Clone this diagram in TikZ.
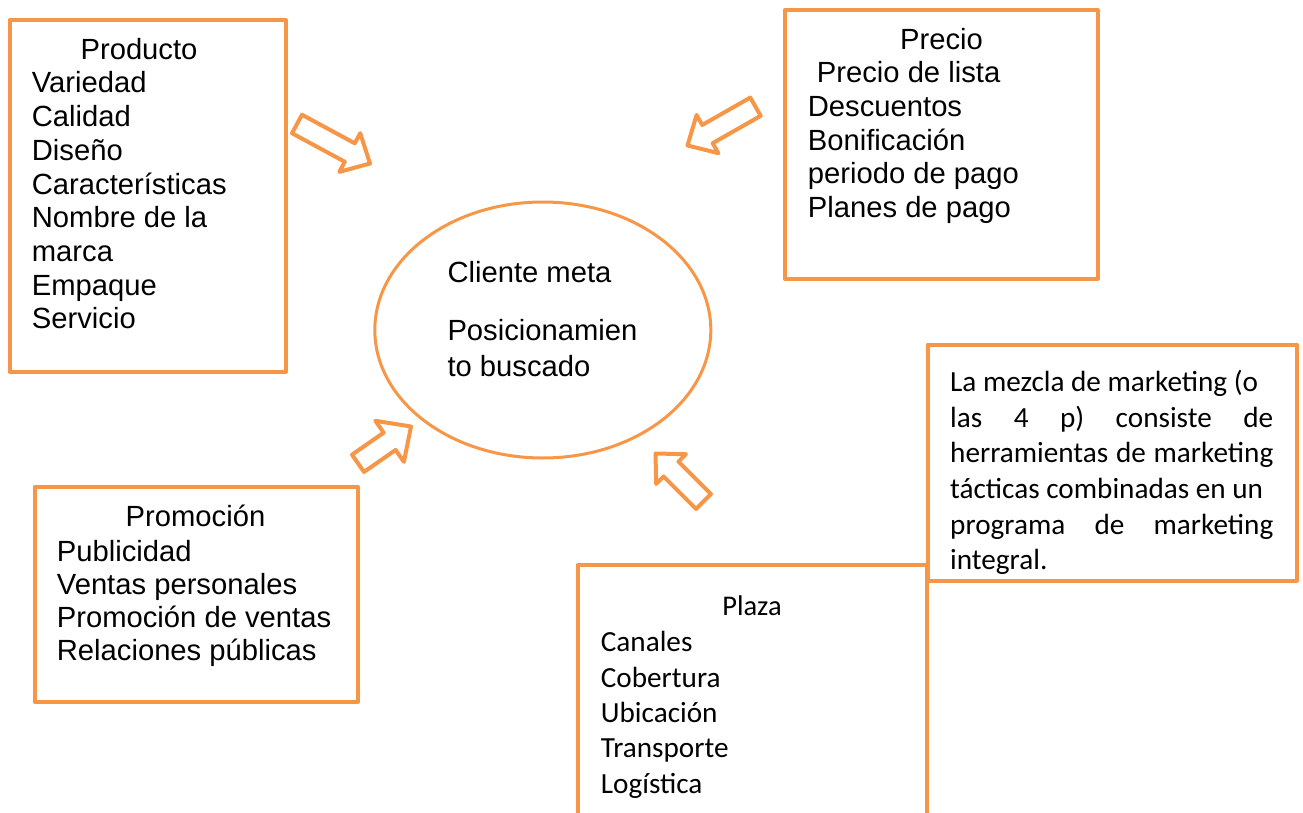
\documentclass[tikz,border=0pt]{standalone}
\usepackage{fontspec}
\setmainfont{Liberation Sans}
\newfontfamily\calib{Carlito}
\usetikzlibrary{calc,shapes.geometric}
\definecolor{orng}{HTML}{F79646}
\newcommand\blocklines[2]{\parbox[t]{#1}{\raggedright #2}}
\newcommand\blockarrow[5]{%
  \coordinate (#1-b) at ($(#2)!#5!(#1)$);
  \draw[arr] ($(#1)!#3!90:(#2)$) -- ($(#1-b)!#3!90:(#2)$) -- ($(#1-b)!#4!90:(#2)$) -- (#2)
    -- ($(#1-b)!#4!-90:(#2)$) -- ($(#1-b)!#3!-90:(#2)$) -- ($(#1)!#3!-90:(#2)$) -- cycle;}
\begin{document}
\begin{tikzpicture}[x=1pt,y=-1pt,
  box/.style={draw=orng,line width=4pt,line join=round,inner sep=0pt,outer sep=0pt,anchor=north west},
  arr/.style={draw=orng,line width=4pt,line join=round,fill=white},
  ttl/.style={anchor=base,inner sep=0pt,font=\fontsize{29.2}{33.7}\selectfont},
  body/.style={anchor=base west,inner sep=0pt,font=\fontsize{29.2}{33.7}\selectfont},
  cttl/.style={anchor=base,inner sep=0pt,font=\calib\fontsize{28.5}{35.5}\selectfont},
  cbody/.style={anchor=base west,inner sep=0pt,font=\calib\fontsize{29.2}{35.6}\selectfont}]
\useasboundingbox (0,0) rectangle (1303,813);
\clip (0,0) rectangle (1303,813);
% boxes
\node[box,minimum width=276.5pt,minimum height=351.5pt] (prod) at (9.5,20) {};
\node[box,minimum width=313pt,minimum height=268pt] (prec) at (784.5,10.5) {};
\node[box,minimum width=323.5pt,minimum height=214.5pt] (prom) at (34.5,487) {};
\node[box,minimum width=349.5pt,minimum height=265pt] (plaza) at (577.5,565) {};
\node[box,minimum width=369pt,minimum height=236pt] (mezcla) at (927.5,344.5) {};
\node[draw=orng,line width=3pt,ellipse,minimum width=336pt,minimum height=256pt,inner sep=0pt,outer sep=0pt] (cli) at (542.8,330) {};
% texts
\node[ttl] (prodT) at (139,59.3) {Producto};
\node[body] (prodL) at (31.7,93) {\blocklines{250pt}{Variedad\\Calidad\\Diseño\\Características\\Nombre de la\\marca\\Empaque\\Servicio}};
\node[ttl] (precT) at (941.5,50) {Precio};
\node[body] (precL) at (807.7,82.7) {\blocklines{280pt}{\hspace*{9pt}Precio de lista\\Descuentos\\Bonificación\\periodo de pago\\Planes de pago}};
\node[ttl] (promT) at (195.5,526.7) {Promoción};
\node[body,font=\fontsize{29.2}{33.2}\selectfont] (promL) at (56.7,561) {\blocklines{300pt}{Publicidad\\Ventas personales\\Promoción de ventas\\Relaciones públicas}};
\node[body] (cliT) at (447.3,282.3) {Cliente meta};
\node[body,font=\fontsize{29.2}{36}\selectfont] (cliL) at (447.3,340.7) {\blocklines{250pt}{Posicionamien\\to buscado}};
\node[cttl] (plazaT) at (752,615) {Plaza};
\node[cbody,font=\calib\fontsize{29.2}{35.4}\selectfont] (plazaL) at (600.7,651.7) {\blocklines{300pt}{Canales\\Cobertura\\Ubicación\\Transporte\\Logística}};
\node[cbody] (mezL) at (950,391.7) {\parbox[t]{323pt}{%
  La mezcla de marketing (o\\
  \makebox[323pt][s]{las 4 p) consiste de}\\
  \makebox[323pt][s]{herramientas de marketing}\\
  tácticas combinadas en un\\
  \makebox[323pt][s]{programa de marketing}\\
  integral.}};
% arrows
\coordinate (a1) at (297,124); \coordinate (a1x) at (370,163.5);
\blockarrow{a1}{a1x}{10.5pt}{22pt}{23pt}
\coordinate (a2) at (755.5,106.7); \coordinate (a2x) at (687.5,145.5);
\blockarrow{a2}{a2x}{10.5pt}{22pt}{23pt}
\coordinate (a3) at (358,463.3); \coordinate (a3x) at (411,426.5);
\blockarrow{a3}{a3x}{10.5pt}{25pt}{26pt}
\coordinate (a4) at (703.5,501.5); \coordinate (a4x) at (655.5,453.5);
\blockarrow{a4}{a4x}{10.5pt}{21pt}{22pt}
\end{tikzpicture}
\end{document}
